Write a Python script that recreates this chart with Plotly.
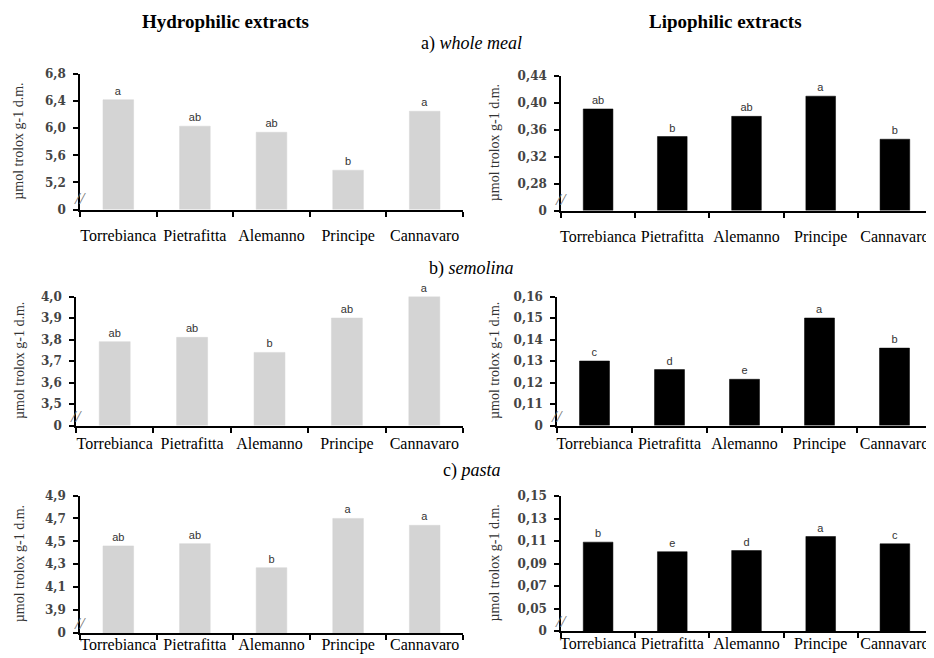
import plotly.graph_objects as go

# the page places the figure 8px from the top-left corner of the window
OFF = 8
W, H = 934 - OFF, 658 - OFF


def px_x(x):
    return (x - OFF) / W


def px_y(y):
    return 1 - (y - OFF) / H


categories = ["Torrebianca", "Pietrafitta", "Alemanno", "Principe", "Cannavaro"]

# a) whole meal
hydro_whole = [6.42, 6.03, 5.94, 5.38, 6.25]
hydro_whole_letters = ["a", "ab", "ab", "b", "a"]
hydro_whole_ticks = [5.2, 5.6, 6.0, 6.4, 6.8]
hydro_whole_ticklabels = ["5,2", "5,6", "6,0", "6,4", "6,8"]
hydro_whole_base = 4.8

lipo_whole = [0.391, 0.350, 0.380, 0.410, 0.346]
lipo_whole_letters = ["ab", "b", "ab", "a", "b"]
lipo_whole_ticks = [0.28, 0.32, 0.36, 0.40, 0.44]
lipo_whole_ticklabels = ["0,28", "0,32", "0,36", "0,40", "0,44"]
lipo_whole_base = 0.24

# b) semolina
hydro_semolina = [3.79, 3.81, 3.74, 3.90, 4.00]
hydro_semolina_letters = ["ab", "ab", "b", "ab", "a"]
hydro_semolina_ticks = [3.5, 3.6, 3.7, 3.8, 3.9, 4.0]
hydro_semolina_ticklabels = ["3,5", "3,6", "3,7", "3,8", "3,9", "4,0"]
hydro_semolina_base = 3.4

lipo_semolina = [0.130, 0.126, 0.1215, 0.150, 0.136]
lipo_semolina_letters = ["c", "d", "e", "a", "b"]
lipo_semolina_ticks = [0.11, 0.12, 0.13, 0.14, 0.15, 0.16]
lipo_semolina_ticklabels = ["0,11", "0,12", "0,13", "0,14", "0,15", "0,16"]
lipo_semolina_base = 0.10

# c) pasta
hydro_pasta = [4.46, 4.48, 4.27, 4.70, 4.64]
hydro_pasta_letters = ["ab", "ab", "b", "a", "a"]
hydro_pasta_ticks = [3.9, 4.1, 4.3, 4.5, 4.7, 4.9]
hydro_pasta_ticklabels = ["3,9", "4,1", "4,3", "4,5", "4,7", "4,9"]
hydro_pasta_base = 3.7

lipo_pasta = [0.109, 0.1005, 0.1015, 0.114, 0.1075]
lipo_pasta_letters = ["b", "e", "d", "a", "c"]
lipo_pasta_ticks = [0.05, 0.07, 0.09, 0.11, 0.13, 0.15]
lipo_pasta_ticklabels = ["0,05", "0,07", "0,09", "0,11", "0,13", "0,15"]
lipo_pasta_base = 0.03

section_titles = ["a) <i>whole meal</i>", "b) <i>semolina</i>", "c) <i>pasta</i>"]
column_titles = ["<b>Hydrophilic extracts</b>", "<b>Lipophilic extracts</b>"]
y_title = "µmol trolox g-1 d.m."

# panel definitions: (values, letters, ticks, ticklabels, base, color, xpx, ypx, label_standoff)
panels = [
    (hydro_whole, hydro_whole_letters, hydro_whole_ticks, hydro_whole_ticklabels, hydro_whole_base,
     "#d4d4d4", (80, 463), (74, 209.5), 10),
    (lipo_whole, lipo_whole_letters, lipo_whole_ticks, lipo_whole_ticklabels, lipo_whole_base,
     "#000000", (561, 932), (76, 210.5), 10),
    (hydro_semolina, hydro_semolina_letters, hydro_semolina_ticks, hydro_semolina_ticklabels, hydro_semolina_base,
     "#d4d4d4", (76, 463), (296.5, 425.5), 2),
    (lipo_semolina, lipo_semolina_letters, lipo_semolina_ticks, lipo_semolina_ticklabels, lipo_semolina_base,
     "#000000", (557, 932), (296.5, 425.5), 2),
    (hydro_pasta, hydro_pasta_letters, hydro_pasta_ticks, hydro_pasta_ticklabels, hydro_pasta_base,
     "#d4d4d4", (80, 463), (495.5, 633), -4),
    (lipo_pasta, lipo_pasta_letters, lipo_pasta_ticks, lipo_pasta_ticklabels, lipo_pasta_base,
     "#000000", (561, 932), (496, 631), -3),
]

fig = go.Figure()
layout = {}
annotations = []

for i, (vals, letters, ticks, ticklabels, base, color, xpx, ypx, lstand) in enumerate(panels):
    n = i + 1
    xa = "x" if n == 1 else f"x{n}"
    ya = "y" if n == 1 else f"y{n}"
    fig.add_trace(go.Bar(
        x=categories,
        y=[v - base for v in vals],
        base=base,
        marker=dict(color=color, line=dict(color=color, width=0.5)),
        width=0.4,
        text=letters,
        textposition="outside",
        constraintext="none",
        cliponaxis=False,
        textfont=dict(family="Liberation Sans, Arial", size=11, color="#333333"),
        xaxis=xa, yaxis=ya,
        showlegend=False,
    ))
    xkey = "xaxis" if n == 1 else f"xaxis{n}"
    ykey = "yaxis" if n == 1 else f"yaxis{n}"
    layout[xkey] = dict(
        domain=[px_x(xpx[0]), px_x(xpx[1])],
        anchor=ya,
        type="category",
        automargin=False,
        showline=True, linecolor="black", linewidth=2,
        ticks="outside", tickson="boundaries", ticklen=5, tickwidth=1.5, tickcolor="black",
        showgrid=False,
        tickangle=0,
        tickfont=dict(family="Liberation Serif, Times New Roman", size=16, color="black"),
        ticklabelstandoff=lstand,
        fixedrange=True,
    )
    step = ticks[1] - ticks[0]
    layout[ykey] = dict(
        domain=[px_y(ypx[1]), px_y(ypx[0])],
        anchor=xa,
        automargin=False,
        range=[base, ticks[-1]],
        tickmode="array",
        tickvals=[base] + ticks,
        ticktext=["0"] + ticklabels,
        showline=True, linecolor="black", linewidth=1.5,
        ticks="outside", ticklen=5, tickwidth=1.5, tickcolor="black",
        showgrid=False, zeroline=False,
        tickfont=dict(family="DejaVu Serif, Liberation Serif", size=12, color="#444444", weight="bold"),
        ticklabelstandoff=5,
        fixedrange=True,
    )
    # axis break mark
    annotations.append(dict(
        xref=f"{xa} domain", yref=ya, x=0, y=base + 0.42 * step,
        text="<i>//</i>", showarrow=False, xanchor="center", xshift=0,
        font=dict(family="Liberation Serif", size=17, color="#777777"),
    ))
    # y title
    ytx = 19 if xpx[0] < 300 else 494
    annotations.append(dict(
        xref="paper", yref="paper", x=px_x(ytx), y=px_y((ypx[0] + ypx[1]) / 2),
        text=y_title, textangle=-90, showarrow=False, xanchor="center", yanchor="middle",
        font=dict(family="Liberation Serif, Times New Roman", size=14, color="#333333"),
    ))

# column titles
for txt, cx in zip(column_titles, [225, 725]):
    annotations.append(dict(
        xref="paper", yref="paper", x=px_x(cx), y=px_y(22), text=txt, showarrow=False,
        xanchor="center", yanchor="middle",
        font=dict(family="Liberation Serif, Times New Roman", size=19, color="black"),
    ))

# section titles
for txt, cy in zip(section_titles, [44, 268, 470]):
    annotations.append(dict(
        xref="paper", yref="paper", x=px_x(472), y=px_y(cy), text=txt, showarrow=False,
        xanchor="center", yanchor="middle",
        font=dict(family="Liberation Serif, Times New Roman", size=18, color="black"),
    ))

fig.update_layout(
    width=W, height=H,
    margin=dict(l=0, r=0, t=0, b=0),
    paper_bgcolor="white", plot_bgcolor="white",
    bargap=0.6,
    annotations=annotations,
    **layout,
)

fig.write_html("out.html")
